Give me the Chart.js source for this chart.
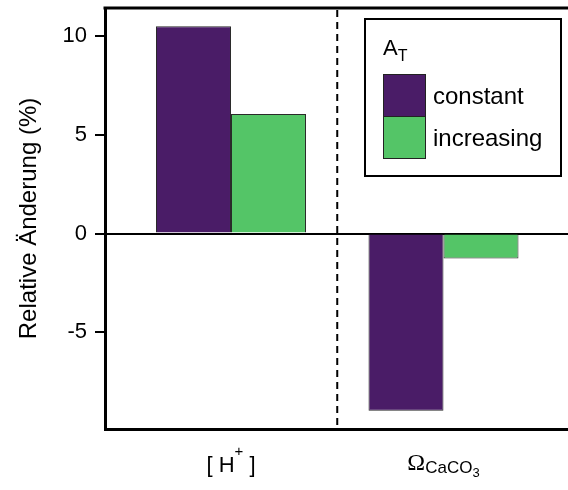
<!DOCTYPE html>
<html>
<head>
<meta charset="utf-8">
<script src="https://cdn.jsdelivr.net/npm/chart.js"></script>
<style>
  html, body { margin: 0; padding: 0; background: #fff; }
  #chart { display: block; }
</style>
</head>
<body>
<canvas id="chart" width="568" height="490"></canvas>
<script>
  // ─── DATA ────────────────────────────────────────────────────────────────
  const categories = ['[H+]', 'ΩCaCO3'];
  const categoryPos = [1, 2];
  // label markup: [text, role]
  const categoryLabelParts = [
    [['[ H', 'base'], ['+', 'sup'], [' ]', 'base']],
    [['Ω', 'greek'], ['CaCO', 'sub'], ['3', 'sub2']],
  ];
  const seriesNames = ['constant', 'increasing'];
  const constantVals = [10.5, -8.97];
  const increasingVals = [6.05, -1.27];
  const yTicks = [-5, 0, 5, 10];
  const yTitle = 'Relative Änderung (%)';
  const legendTitle = ['A', 'T'];

  const PURPLE = '#4a1c67';
  const GREEN = '#54c567';
  const SANS = '"Liberation Sans", Arial, sans-serif';
  const SERIF = '"Liberation Serif", "Times New Roman", serif';

  // ─── HELPERS ─────────────────────────────────────────────────────────────
  const roleFont = {
    base:  { font: '22px ' + SANS, dy: 0 },
    sup:   { font: '15px ' + SANS, dy: -16 },
    greek: { font: '24px ' + SERIF, dy: -2 },
    sub:   { font: '17px ' + SANS, dy: 1 },
    sub2:  { font: '13px ' + SANS, dy: 5 },
  };

  function drawRich(ctx, parts, cx, baseline) {
    let total = 0;
    const widths = parts.map(([t, role]) => {
      ctx.font = roleFont[role].font;
      const w = ctx.measureText(t).width;
      total += w;
      return w;
    });
    let x = cx - total / 2;
    parts.forEach(([t, role], i) => {
      ctx.font = roleFont[role].font;
      ctx.fillText(t, x, baseline + roleFont[role].dy);
      x += widths[i];
    });
  }

  // ─── PLUGIN: frame, divider, x labels, legend ───────────────────────────
  const decor = {
    id: 'decor',
    afterDraw(chart) {
      const { ctx, chartArea: a, scales: { x } } = chart;
      ctx.save();

      // top frame line
      ctx.strokeStyle = '#000';
      ctx.lineWidth = 3;
      ctx.beginPath();
      ctx.moveTo(a.left - 1.5, a.top);
      ctx.lineTo(a.right, a.top);
      ctx.stroke();

      // dashed divider between groups
      const mid = x.getPixelForValue((categoryPos[0] + categoryPos[1]) / 2);
      ctx.lineWidth = 2;
      ctx.setLineDash([7, 5]);
      ctx.beginPath();
      ctx.moveTo(mid, a.top + 2);
      ctx.lineTo(mid, a.bottom);
      ctx.stroke();
      ctx.setLineDash([]);

      // category labels
      ctx.fillStyle = '#000';
      ctx.textAlign = 'left';
      ctx.textBaseline = 'alphabetic';
      categoryLabelParts.forEach((parts, i) => {
        drawRich(ctx, parts, x.getPixelForValue(categoryPos[i]), 472);
      });

      // legend box
      ctx.lineWidth = 2;
      ctx.strokeStyle = '#000';
      ctx.fillStyle = '#fff';
      ctx.fillRect(365, 19, 196, 157);
      ctx.strokeRect(365, 19, 196, 157);

      ctx.fillStyle = '#000';
      ctx.font = '22px ' + SANS;
      ctx.fillText(legendTitle[0], 383, 55);
      const aw = ctx.measureText(legendTitle[0]).width;
      ctx.font = '16px ' + SANS;
      ctx.fillText(legendTitle[1], 383 + aw, 61);

      chart.data.datasets.forEach((ds, i) => {
        const y0 = 74 + i * 42;
        ctx.fillStyle = ds.backgroundColor;
        ctx.fillRect(383, y0, 42, 42);
        ctx.lineWidth = 1;
        ctx.strokeStyle = '#222';
        ctx.strokeRect(383.5, y0 + 0.5, 42, 42);
        ctx.fillStyle = '#000';
        ctx.font = '24px ' + SANS;
        ctx.fillText(ds.label, 433, y0 + 30);
      });

      ctx.restore();
    },
  };

  // ─── CHART ───────────────────────────────────────────────────────────────
  const mk = vals => vals.map((v, i) => ({ x: categoryPos[i], y: v }));

  new Chart(document.getElementById('chart'), {
    type: 'bar',
    data: {
      datasets: [
        { label: seriesNames[0], data: mk(constantVals), backgroundColor: PURPLE, borderColor: '#2a2a2a', borderWidth: 1 },
        { label: seriesNames[1], data: mk(increasingVals), backgroundColor: GREEN, borderColor: '#2a2a2a', borderWidth: 1 },
      ],
    },
    options: {
      responsive: false,
      animation: false,
      devicePixelRatio: 1,
      categoryPercentage: 150 / 212.5,
      barPercentage: 1,
      layout: { padding: { top: 8, left: 0, right: 0, bottom: 0 } },
      plugins: { legend: { display: false }, tooltip: { enabled: false } },
      scales: {
        x: {
          type: 'linear',
          offset: false,
          min: 0.4071,
          max: 2.5859,
          afterBuildTicks: s => { s.ticks = categoryPos.map(v => ({ value: v })); },
          afterFit: s => { s.height = 61; s.paddingLeft = 0; s.paddingRight = 0; },
          ticks: { display: false },
          grid: { display: false, offset: false },
          border: { display: true, color: '#000', width: 3 },
        },
        y: {
          min: -9.9,
          max: 11.42,
          z: 1,
          afterBuildTicks: s => { s.ticks = yTicks.map(v => ({ value: v })); },
          afterFit: s => { s.width = 105; s.paddingTop = 0; s.paddingBottom = 0; },
          ticks: {
            color: '#000',
            padding: 8,
            font: { family: SANS, size: 22 },
          },
          grid: {
            color: c => (c.tick && c.tick.value === 0 ? '#000' : 'rgba(0,0,0,0)'),
            lineWidth: 2,
            tickColor: '#000',
            tickWidth: 2,
            tickLength: 10,
          },
          border: { display: true, color: '#000', width: 3 },
          title: {
            display: true,
            text: yTitle,
            color: '#000',
            font: { family: SANS, size: 24 },
            padding: { top: 15, bottom: 0 },
          },
        },
      },
    },
    plugins: [decor],
  });
</script>
</body>
</html>
